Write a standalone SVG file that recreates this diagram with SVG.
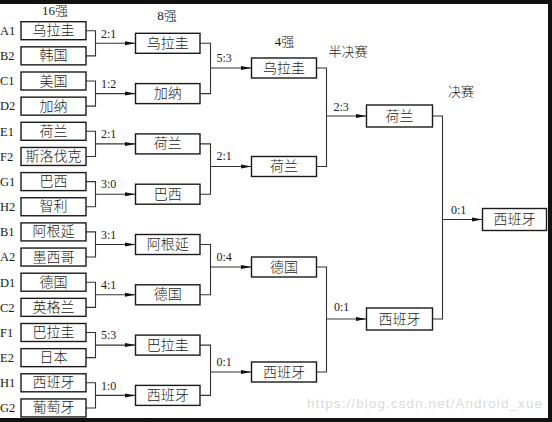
<svg xmlns="http://www.w3.org/2000/svg" width="552" height="422" viewBox="0 0 552 422">
<defs>
<style>
.box{fill:#fff;stroke:#1a1a1a;stroke-width:1.4}
.nm{font-family:"Liberation Serif","Noto Sans CJK SC",serif;font-size:14px;font-weight:300;fill:#1a1a1a;text-anchor:middle;dominant-baseline:central}
.seed{font-family:"Liberation Serif","Noto Sans CJK SC",serif;font-size:12.5px;fill:#1a1a1a}
.hd{font-family:"Liberation Serif","Noto Sans CJK SC",serif;font-size:13px;font-weight:300;fill:#1a1a1a;text-anchor:middle}
.sc{font-family:"Liberation Serif",serif;font-size:12px;fill:#1a1a1a}
.ln{fill:none;stroke:#333;stroke-width:1.1}
.ar{fill:none;stroke:#333;stroke-width:1.1;marker-end:url(#ah)}
</style>
<marker id="ah" markerUnits="userSpaceOnUse" markerWidth="11" markerHeight="6" viewBox="0 0 11 6" refX="11" refY="3" orient="auto">
<path d="M0,0.9 L11,3 L0,5.1 z" fill="#111"/>
</marker>
</defs>
<rect x="0" y="0" width="552" height="422" fill="#fff"/>
<rect x="0" y="0" width="552" height="4" fill="#111"/>
<rect x="548" y="0" width="4" height="422" fill="#111"/>
<rect x="0" y="418" width="552" height="4" fill="#111"/>

<g id="headers">
<text class="hd" x="55" y="15">16强</text>
<text class="hd" x="167" y="20">8强</text>
<text class="hd" x="284.5" y="46">4强</text>
<text class="hd" x="348" y="56">半决赛</text>
<text class="hd" x="461" y="96">决赛</text>
</g>

<g id="connectors">
<path class="ln" d="M86,30.7H95.5V55.85H86"/><path class="ar" d="M95.5,43.3H135.5"/>
<path class="ln" d="M86,81H95.5V106.15H86"/><path class="ar" d="M95.5,93.6H135.5"/>
<path class="ln" d="M86,131.3H95.5V156.45H86"/><path class="ar" d="M95.5,143.9H135.5"/>
<path class="ln" d="M86,181.6H95.5V206.75H86"/><path class="ar" d="M95.5,194.2H135.5"/>
<path class="ln" d="M86,231.9H95.5V257.05H86"/><path class="ar" d="M95.5,244.5H135.5"/>
<path class="ln" d="M86,282.2H95.5V307.35H86"/><path class="ar" d="M95.5,294.8H135.5"/>
<path class="ln" d="M86,332.5H95.5V357.65H86"/><path class="ar" d="M95.5,345.1H135.5"/>
<path class="ln" d="M86,382.8H95.5V407.95H86"/><path class="ar" d="M95.5,395.4H135.5"/>
<path class="ln" d="M200,43.3H210.5V93.6H200"/><path class="ar" d="M210.5,68H251.5"/>
<path class="ln" d="M200,143.9H210.5V194.2H200"/><path class="ar" d="M210.5,166.5H251.5"/>
<path class="ln" d="M200,244.5H210.5V294.8H200"/><path class="ar" d="M210.5,267H251.5"/>
<path class="ln" d="M200,345.1H210.5V395.4H200"/><path class="ar" d="M210.5,372H251.5"/>
<path class="ln" d="M316.5,68H326.5V166.5H316.5"/><path class="ar" d="M326.5,116H366.5"/>
<path class="ln" d="M316.5,267H326.5V372H316.5"/><path class="ar" d="M326.5,319H366.5"/>
<path class="ln" d="M432.5,116H442.5V319H432.5"/><path class="ar" d="M442.5,219.5H482.5"/>
<text class="sc" x="101" y="37.5">2:1</text>
<text class="sc" x="101" y="87.8">1:2</text>
<text class="sc" x="101" y="138.1">2:1</text>
<text class="sc" x="101" y="188.4">3:0</text>
<text class="sc" x="101" y="238.7">3:1</text>
<text class="sc" x="101" y="289">4:1</text>
<text class="sc" x="101" y="339.3">5:3</text>
<text class="sc" x="101" y="389.6">1:0</text>
<text class="sc" x="216.5" y="61.8">5:3</text>
<text class="sc" x="216.5" y="160.3">2:1</text>
<text class="sc" x="216.5" y="261">0:4</text>
<text class="sc" x="216.5" y="366">0:1</text>
<text class="sc" x="333.5" y="110.5">2:3</text>
<text class="sc" x="334" y="311">0:1</text>
<text class="sc" x="451" y="213.5">0:1</text>
</g>

<g id="r16-A1"><text class="seed" x="0" y="35">A1</text><rect class="box" x="21" y="21.7" width="65" height="18"/><text class="nm" x="53.5" y="30.7">乌拉圭</text></g>
<g id="r16-B2"><text class="seed" x="0" y="60.1">B2</text><rect class="box" x="21" y="46.85" width="65" height="18"/><text class="nm" x="53.5" y="55.85">韩国</text></g>
<g id="r16-C1"><text class="seed" x="0" y="85.3">C1</text><rect class="box" x="21" y="72" width="65" height="18"/><text class="nm" x="53.5" y="81">美国</text></g>
<g id="r16-D2"><text class="seed" x="0" y="110.4">D2</text><rect class="box" x="21" y="97.15" width="65" height="18"/><text class="nm" x="53.5" y="106.15">加纳</text></g>
<g id="r16-E1"><text class="seed" x="0" y="135.6">E1</text><rect class="box" x="21" y="122.3" width="65" height="18"/><text class="nm" x="53.5" y="131.3">荷兰</text></g>
<g id="r16-F2"><text class="seed" x="0" y="160.7">F2</text><rect class="box" x="21" y="147.45" width="65" height="18"/><text class="nm" x="53.5" y="156.45">斯洛伐克</text></g>
<g id="r16-G1"><text class="seed" x="0" y="185.9">G1</text><rect class="box" x="21" y="172.6" width="65" height="18"/><text class="nm" x="53.5" y="181.6">巴西</text></g>
<g id="r16-H2"><text class="seed" x="0" y="211">H2</text><rect class="box" x="21" y="197.75" width="65" height="18"/><text class="nm" x="53.5" y="206.75">智利</text></g>
<g id="r16-B1"><text class="seed" x="0" y="236.2">B1</text><rect class="box" x="21" y="222.9" width="65" height="18"/><text class="nm" x="53.5" y="231.9">阿根延</text></g>
<g id="r16-A2"><text class="seed" x="0" y="261.3">A2</text><rect class="box" x="21" y="248.05" width="65" height="18"/><text class="nm" x="53.5" y="257.05">墨西哥</text></g>
<g id="r16-D1"><text class="seed" x="0" y="286.5">D1</text><rect class="box" x="21" y="273.2" width="65" height="18"/><text class="nm" x="53.5" y="282.2">德国</text></g>
<g id="r16-C2"><text class="seed" x="0" y="311.6">C2</text><rect class="box" x="21" y="298.35" width="65" height="18"/><text class="nm" x="53.5" y="307.35">英格兰</text></g>
<g id="r16-F1"><text class="seed" x="0" y="336.8">F1</text><rect class="box" x="21" y="323.5" width="65" height="18"/><text class="nm" x="53.5" y="332.5">巴拉圭</text></g>
<g id="r16-E2"><text class="seed" x="0" y="361.9">E2</text><rect class="box" x="21" y="348.65" width="65" height="18"/><text class="nm" x="53.5" y="357.65">日本</text></g>
<g id="r16-H1"><text class="seed" x="0" y="387.1">H1</text><rect class="box" x="21" y="373.8" width="65" height="18"/><text class="nm" x="53.5" y="382.8">西班牙</text></g>
<g id="r16-G2"><text class="seed" x="0" y="412.2">G2</text><rect class="box" x="21" y="398.95" width="65" height="18"/><text class="nm" x="53.5" y="407.95">葡萄牙</text></g>

<g id="r8-1"><rect class="box" x="135.5" y="33.3" width="64.5" height="20"/><text class="nm" x="167.75" y="43.3">乌拉圭</text></g>
<g id="r8-2"><rect class="box" x="135.5" y="83.6" width="64.5" height="20"/><text class="nm" x="167.75" y="93.6">加纳</text></g>
<g id="r8-3"><rect class="box" x="135.5" y="133.9" width="64.5" height="20"/><text class="nm" x="167.75" y="143.9">荷兰</text></g>
<g id="r8-4"><rect class="box" x="135.5" y="184.2" width="64.5" height="20"/><text class="nm" x="167.75" y="194.2">巴西</text></g>
<g id="r8-5"><rect class="box" x="135.5" y="234.5" width="64.5" height="20"/><text class="nm" x="167.75" y="244.5">阿根延</text></g>
<g id="r8-6"><rect class="box" x="135.5" y="284.8" width="64.5" height="20"/><text class="nm" x="167.75" y="294.8">德国</text></g>
<g id="r8-7"><rect class="box" x="135.5" y="335.1" width="64.5" height="20"/><text class="nm" x="167.75" y="345.1">巴拉圭</text></g>
<g id="r8-8"><rect class="box" x="135.5" y="385.4" width="64.5" height="20"/><text class="nm" x="167.75" y="395.4">西班牙</text></g>

<g id="r4-1"><rect class="box" x="251.5" y="58" width="65" height="20"/><text class="nm" x="284" y="68">乌拉圭</text></g>
<g id="r4-2"><rect class="box" x="251.5" y="156.5" width="65" height="20"/><text class="nm" x="284" y="166.5">荷兰</text></g>
<g id="r4-3"><rect class="box" x="251.5" y="257" width="65" height="20"/><text class="nm" x="284" y="267">德国</text></g>
<g id="r4-4"><rect class="box" x="251.5" y="362" width="65" height="20"/><text class="nm" x="284" y="372">西班牙</text></g>

<g id="sf-1"><rect class="box" x="366.5" y="105" width="66" height="22"/><text class="nm" x="399.5" y="116">荷兰</text></g>
<g id="sf-2"><rect class="box" x="366.5" y="308" width="66" height="22"/><text class="nm" x="399.5" y="319">西班牙</text></g>

<g id="final"><rect class="box" x="482.5" y="208.5" width="64" height="22"/><text class="nm" x="514.5" y="219.5">西班牙</text></g>

<text x="307" y="408" font-family="Liberation Sans, Arial, sans-serif" font-size="13.5" fill="#dadada" textLength="235">https://blog.csdn.net/Android_xue</text>
</svg>
